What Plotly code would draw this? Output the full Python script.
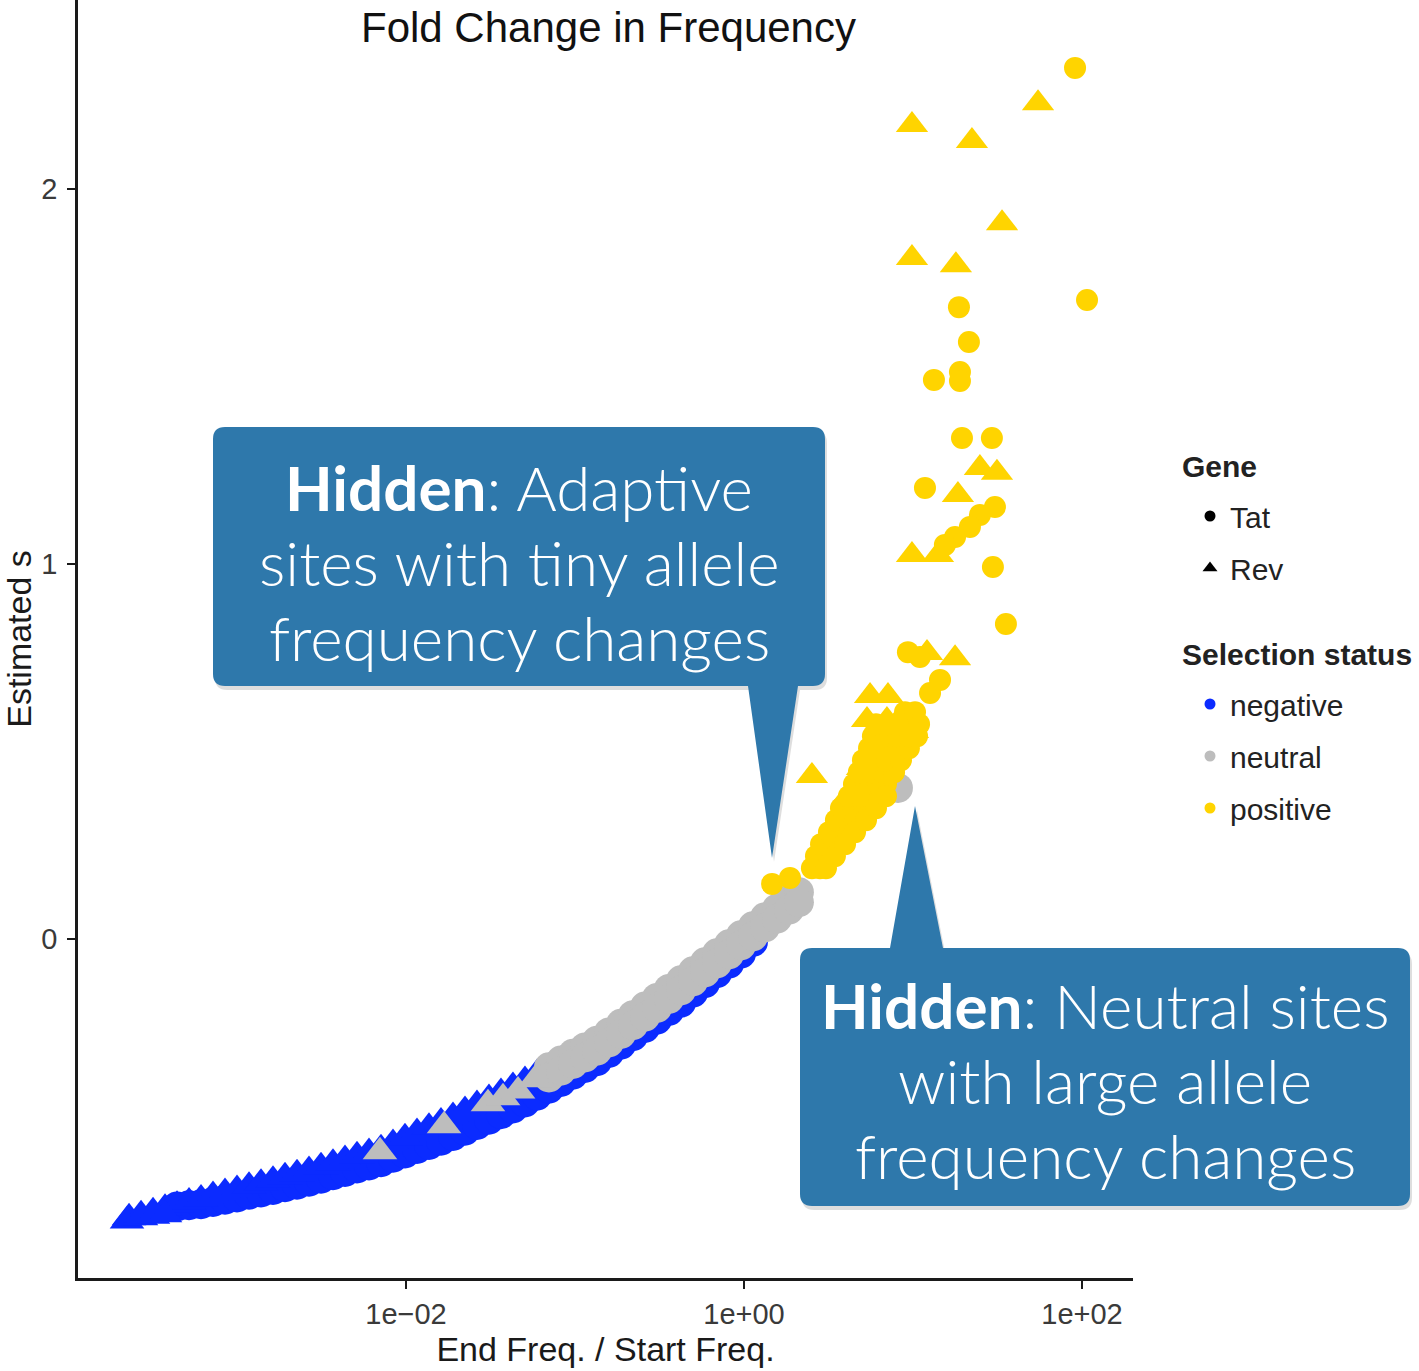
import plotly.graph_objects as go

# ---------------------------------------------------------------------------
# Site-level estimates: log10(end freq / start freq) and estimated s,
# split by selection status and gene (Tat = circle, Rev = triangle)
# ---------------------------------------------------------------------------
neg_rev_log10fc = [-3.651, -3.639, -3.568, -3.497, -3.426, -3.355, -3.284, -3.213, -3.142,
                   -3.071, -3.000, -2.929, -2.858, -2.787, -2.716, -2.645, -2.574, -2.503,
                   -2.432, -2.361, -2.290, -2.219, -2.148, -2.077, -2.006, -1.935, -1.864,
                   -1.793, -1.722, -1.651, -1.580, -1.509, -1.438, -1.367, -1.296, -1.225,
                   -1.154, -1.083, -1.012, -0.941, -0.870, -0.799, -0.728, -0.657, -0.586,
                   -0.515, -0.444, -0.373, -0.302, -0.231, -0.160, -0.089, -0.018, 0.053,
                   -3.568, -3.497, -3.426]
neg_rev_s = [-0.752, -0.743, -0.735, -0.727, -0.718, -0.710, -0.701, -0.693, -0.684,
             -0.676, -0.668, -0.659, -0.651, -0.643, -0.634, -0.626, -0.617, -0.607,
             -0.598, -0.588, -0.578, -0.569, -0.559, -0.545, -0.530, -0.516, -0.502,
             -0.488, -0.473, -0.457, -0.441, -0.425, -0.409, -0.393, -0.377, -0.359,
             -0.342, -0.324, -0.306, -0.289, -0.271, -0.249, -0.226, -0.203, -0.180,
             -0.157, -0.133, -0.110, -0.086, -0.062, -0.038, -0.014, 0.010, 0.034,
             -0.743, -0.739, -0.735]

neg_tat_log10fc = [-3.355, -3.284, -3.213, -3.142, -3.071, -3.000, -2.929, -2.858, -2.787,
                   -2.716, -2.645, -2.574, -2.503, -2.432, -2.361, -2.290, -2.219, -2.148,
                   -2.077, -2.006, -1.935, -1.864, -1.793, -1.722, -1.651, -1.580, -1.509,
                   -1.438, -1.367, -1.296, -1.225, -1.154, -1.083, -1.012, -0.941, -0.870,
                   -0.799, -0.728, -0.657, -0.586, -0.515, -0.444, -0.373, -0.302, -0.231,
                   -0.160, -0.089, -0.018, 0.053]
neg_tat_s = [-0.713, -0.710, -0.707, -0.701, -0.695, -0.689, -0.682, -0.676, -0.669,
             -0.662, -0.655, -0.647, -0.639, -0.630, -0.621, -0.612, -0.604, -0.595,
             -0.583, -0.572, -0.560, -0.549, -0.538, -0.525, -0.511, -0.496, -0.482,
             -0.467, -0.452, -0.436, -0.418, -0.399, -0.381, -0.362, -0.344, -0.326,
             -0.304, -0.282, -0.259, -0.237, -0.215, -0.192, -0.170, -0.143, -0.118,
             -0.091, -0.066, -0.039, -0.008]

neu_rev_log10fc = [-2.154, -1.775, -1.515, -1.426, -1.337, -1.237]
neu_rev_s = [-0.567, -0.498, -0.439, -0.423, -0.405, -0.375]

neu_tat_log10fc = [-1.154, -1.083, -1.012, -0.941, -0.870, -0.799, -0.728, -0.657, -0.586,
                   -0.515, -0.444, -0.373, -0.302, -0.231, -0.160, -0.089, -0.018, 0.053,
                   0.124, 0.195, 0.266, 0.325,
                   -1.154, -1.083, -1.012, -0.941, -0.870, -0.799, -0.728, -0.657, -0.586,
                   -0.515, -0.444, -0.373, -0.302, -0.231, -0.160, -0.089, -0.018, 0.053,
                   0.124, 0.195, 0.266, 0.325,
                   0.911]
neu_tat_s = [-0.342, -0.324, -0.306, -0.289, -0.271, -0.249, -0.226, -0.203, -0.180,
             -0.157, -0.133, -0.110, -0.086, -0.062, -0.038, -0.014, 0.010, 0.034,
             0.058, 0.081, 0.105, 0.125,
             -0.369, -0.351, -0.333, -0.316, -0.298, -0.276, -0.253, -0.230, -0.207,
             -0.184, -0.160, -0.137, -0.113, -0.089, -0.065, -0.041, -0.017, 0.007,
             0.031, 0.054, 0.078, 0.098,
             0.403]

pos_tat_log10fc = [1.959, 2.030, 1.272, 1.331, 1.124, 1.278, 1.278, 1.290, 1.467, 1.071,
                   1.485, 1.396, 1.337, 1.249, 1.189, 1.473, 1.550, 0.970, 1.041, 1.160,
                   1.101,
                   0.166, 0.272, 0.402, 0.450, 0.426, 0.485, 0.456, 0.533, 0.503, 0.592,
                   0.544, 0.615, 0.651, 0.574, 0.645, 0.710, 0.621, 0.692, 0.769,
                   0.651, 0.722, 0.793, 0.840, 0.680, 0.751, 0.822, 0.888,
                   0.704, 0.775, 0.846, 0.929, 0.740, 0.811, 0.882, 0.976,
                   0.763, 0.834, 0.905, 0.976, 1.024, 0.781, 0.852, 0.923, 0.994, 1.036,
                   0.953, 1.012,
                   0.485, 0.538, 0.598, 0.657, 0.722, 0.781, 0.840]
pos_tat_s = [2.323, 1.704, 1.685, 1.592, 1.491, 1.512, 1.488, 1.336, 1.336, 1.203,
             1.152, 1.131, 1.099, 1.072, 1.051, 0.992, 0.840, 0.765, 0.752, 0.691,
             0.656,
             0.147, 0.163, 0.189, 0.189, 0.221, 0.221, 0.253, 0.253, 0.285, 0.285,
             0.317, 0.317, 0.317, 0.349, 0.349, 0.349, 0.381, 0.381, 0.381,
             0.413, 0.413, 0.413, 0.413, 0.445, 0.445, 0.445, 0.445,
             0.477, 0.477, 0.477, 0.477, 0.509, 0.509, 0.509, 0.509,
             0.541, 0.541, 0.541, 0.541, 0.541, 0.573, 0.573, 0.573, 0.573, 0.573,
             0.605, 0.605,
             0.189, 0.221, 0.253, 0.285, 0.317, 0.349, 0.381]

pos_rev_log10fc = [0.994, 1.349, 1.740, 1.527, 0.994, 1.254, 1.396, 1.497, 1.266, 0.994,
                   1.148, 1.083, 1.249, 0.746, 0.852, 0.728, 0.846, 0.402, 0.775, 1.000,
                   0.627, 0.698, 0.893]
pos_rev_s = [2.171, 2.128, 2.229, 1.909, 1.816, 1.797, 1.256, 1.243, 1.184, 1.024,
             1.024, 0.763, 0.749, 0.648, 0.648, 0.584, 0.584, 0.435, 0.509, 0.555,
             0.389, 0.456, 0.571]

x_tick_vals = [0.01, 1, 100]
x_tick_text = ["1e\u221202", "1e+00", "1e+02"]
y_tick_vals = [0, 1, 2]

BLUE = "#0b2bff"
GREY = "#bdbdbd"
GOLD = "#ffd400"
CALLOUT = "#2e78ab"

W, H = 1419, 1371
L, R, T, B = 78, 286, 0, 93
SANS = "Liberation Sans, Arial, Helvetica, sans-serif"


def fold(vals):
    """Convert stored log10 fold changes back to fold changes for the log axis."""
    return [10 ** v for v in vals]


def px(x):
    """Page x pixel -> paper coordinate."""
    return (x - L) / (W - L - R)


def py(y):
    """Page y pixel -> paper coordinate."""
    return (H - B - y) / (H - T - B)


fig = go.Figure()


def add_points(lx, s, color, symbol, size):
    fig.add_trace(go.Scatter(
        x=fold(lx), y=s, mode="markers",
        marker=dict(color=color, symbol=symbol, size=size, line=dict(width=0)),
        showlegend=False, hoverinfo="skip"))


add_points(neg_tat_log10fc, neg_tat_s, BLUE, "circle", 30)
add_points(neg_rev_log10fc, neg_rev_s, BLUE, "triangle-up", 30)
add_points(neu_tat_log10fc, neu_tat_s, GREY, "circle", 30)
add_points(neu_rev_log10fc, neu_rev_s, GREY, "triangle-up", 30)
add_points(pos_tat_log10fc, pos_tat_s, GOLD, "circle", 22)
add_points(pos_rev_log10fc, pos_rev_s, GOLD, "triangle-up", 28)

# legend entries (shape = gene, colour = selection status)
legend_items = [
    ("Tat", "circle", "black", 11, "legend"),
    ("Rev", "triangle-up", "black", 13, "legend"),
    ("negative", "circle", BLUE, 11, "legend2"),
    ("neutral", "circle", GREY, 11, "legend2"),
    ("positive", "circle", GOLD, 11, "legend2"),
]
for name, sym, col, size, lg in legend_items:
    fig.add_trace(go.Scatter(
        x=[None], y=[None], mode="markers", name=name, legend=lg, legendgroup=name,
        marker=dict(symbol=sym, color=col, size=size, line=dict(width=0))))


def callout_path(x0, y0, x1, y1, pointer, dx=0, dy=0, r=12):
    """Rounded box with a pointer; pointer = (side, base_left, base_right, tip_x, tip_y)."""
    side, bl, br, tx, ty = pointer
    P = lambda x, y: f"{px(x + dx)},{py(y + dy)}"
    top = f"L{P(bl, y0)} L{P(tx, ty)} L{P(br, y0)} " if side == "top" else ""
    bottom = f"L{P(br, y1)} L{P(tx, ty)} L{P(bl, y1)} " if side == "bottom" else ""
    return (f"M{P(x0 + r, y0)} {top}L{P(x1 - r, y0)} Q{P(x1, y0)} {P(x1, y0 + r)} "
            f"L{P(x1, y1 - r)} Q{P(x1, y1)} {P(x1 - r, y1)} {bottom}"
            f"L{P(x0 + r, y1)} Q{P(x0, y1)} {P(x0, y1 - r)} "
            f"L{P(x0, y0 + r)} Q{P(x0, y0)} {P(x0 + r, y0)} Z")


boxes = [
    (213, 427, 825, 686, ("bottom", 748, 798, 772, 858)),
    (800, 948, 1410, 1206, ("top", 890, 943, 915, 806)),
]
shapes = []
for x0, y0, x1, y1, ptr in boxes:
    shapes.append(dict(type="path", path=callout_path(x0, y0, x1, y1, ptr, dx=2, dy=4),
                       xref="paper", yref="paper", layer="above",
                       fillcolor="rgba(0,0,0,0.13)", line=dict(width=0)))
    shapes.append(dict(type="path", path=callout_path(x0, y0, x1, y1, ptr),
                       xref="paper", yref="paper", layer="above",
                       fillcolor=CALLOUT, line=dict(width=0)))

callout_font = dict(family="Lato, Inter, 'Helvetica Neue', Arial, sans-serif", size=62,
                    color="white", weight=300)
callout_lines = [
    (519, 487, "<b>Hidden</b>: Adaptive"),
    (519, 562, "sites with tiny allele"),
    (519, 637, "frequency changes"),
    (1105, 1005, "<b>Hidden</b>: Neutral sites"),
    (1105, 1080, "with large allele"),
    (1105, 1155, "frequency changes"),
]
annotations = [dict(x=px(cx), y=py(cy), xref="paper", yref="paper", text=t,
                    showarrow=False, xanchor="center", yanchor="middle", font=callout_font)
               for cx, cy, t in callout_lines]

# chart title
annotations.append(dict(x=px(608), y=py(0), xref="paper", yref="paper",
                        text="Fold Change in Frequency", showarrow=False,
                        xanchor="center", yanchor="top", yshift=-2,
                        font=dict(family=SANS, size=42, color="#111111")))

legend_font = dict(family=SANS, size=30, color="#222222")
# legend headings
for text, y in (("Gene", 467), ("Selection status", 654)):
    annotations.append(dict(x=px(1180), y=py(y), xref="paper", yref="paper",
                            text=f"<b>{text}</b>", showarrow=False,
                            xanchor="left", yanchor="middle", font=legend_font))

axis_font = dict(family=SANS, size=29, color="#3a3a3a")

fig.update_layout(
    width=W, height=H,
    margin=dict(l=L, r=R, t=T, b=B, autoexpand=False),
    paper_bgcolor="white", plot_bgcolor="white",
    shapes=shapes, annotations=annotations,
    xaxis=dict(type="log", range=[-3.941, 2.302], showgrid=False, zeroline=False,
               showline=True, linecolor="#1a1a1a", linewidth=2.5,
               ticks="outside", ticklen=8, tickwidth=2, tickcolor="#1a1a1a",
               tickvals=x_tick_vals, ticktext=x_tick_text, tickfont=axis_font,
               ticklabelstandoff=0,
               title=dict(text="End Freq. / Start Freq.", standoff=2,
                          font=dict(family=SANS, size=34, color="#1a1a1a"))),
    yaxis=dict(range=[-0.904, 2.504], showgrid=False, zeroline=False,
               showline=True, linecolor="#1a1a1a", linewidth=2.5,
               ticks="outside", ticklen=8, tickwidth=2, tickcolor="#1a1a1a",
               tickvals=y_tick_vals, tickfont=axis_font, ticklabelstandoff=4,
               title=dict(text="Estimated s", standoff=0,
                          font=dict(family=SANS, size=34, color="#1a1a1a"))),
    legend=dict(x=px(1190), y=py(490), xanchor="left", yanchor="top",
                font=legend_font, bgcolor="rgba(0,0,0,0)", traceorder="grouped",
                tracegroupgap=10, itemsizing="trace"),
    legend2=dict(x=px(1190), y=py(678), xanchor="left", yanchor="top",
                 font=legend_font, bgcolor="rgba(0,0,0,0)", traceorder="grouped",
                 tracegroupgap=10, itemsizing="trace"),
)

fig.write_html("out.html")
